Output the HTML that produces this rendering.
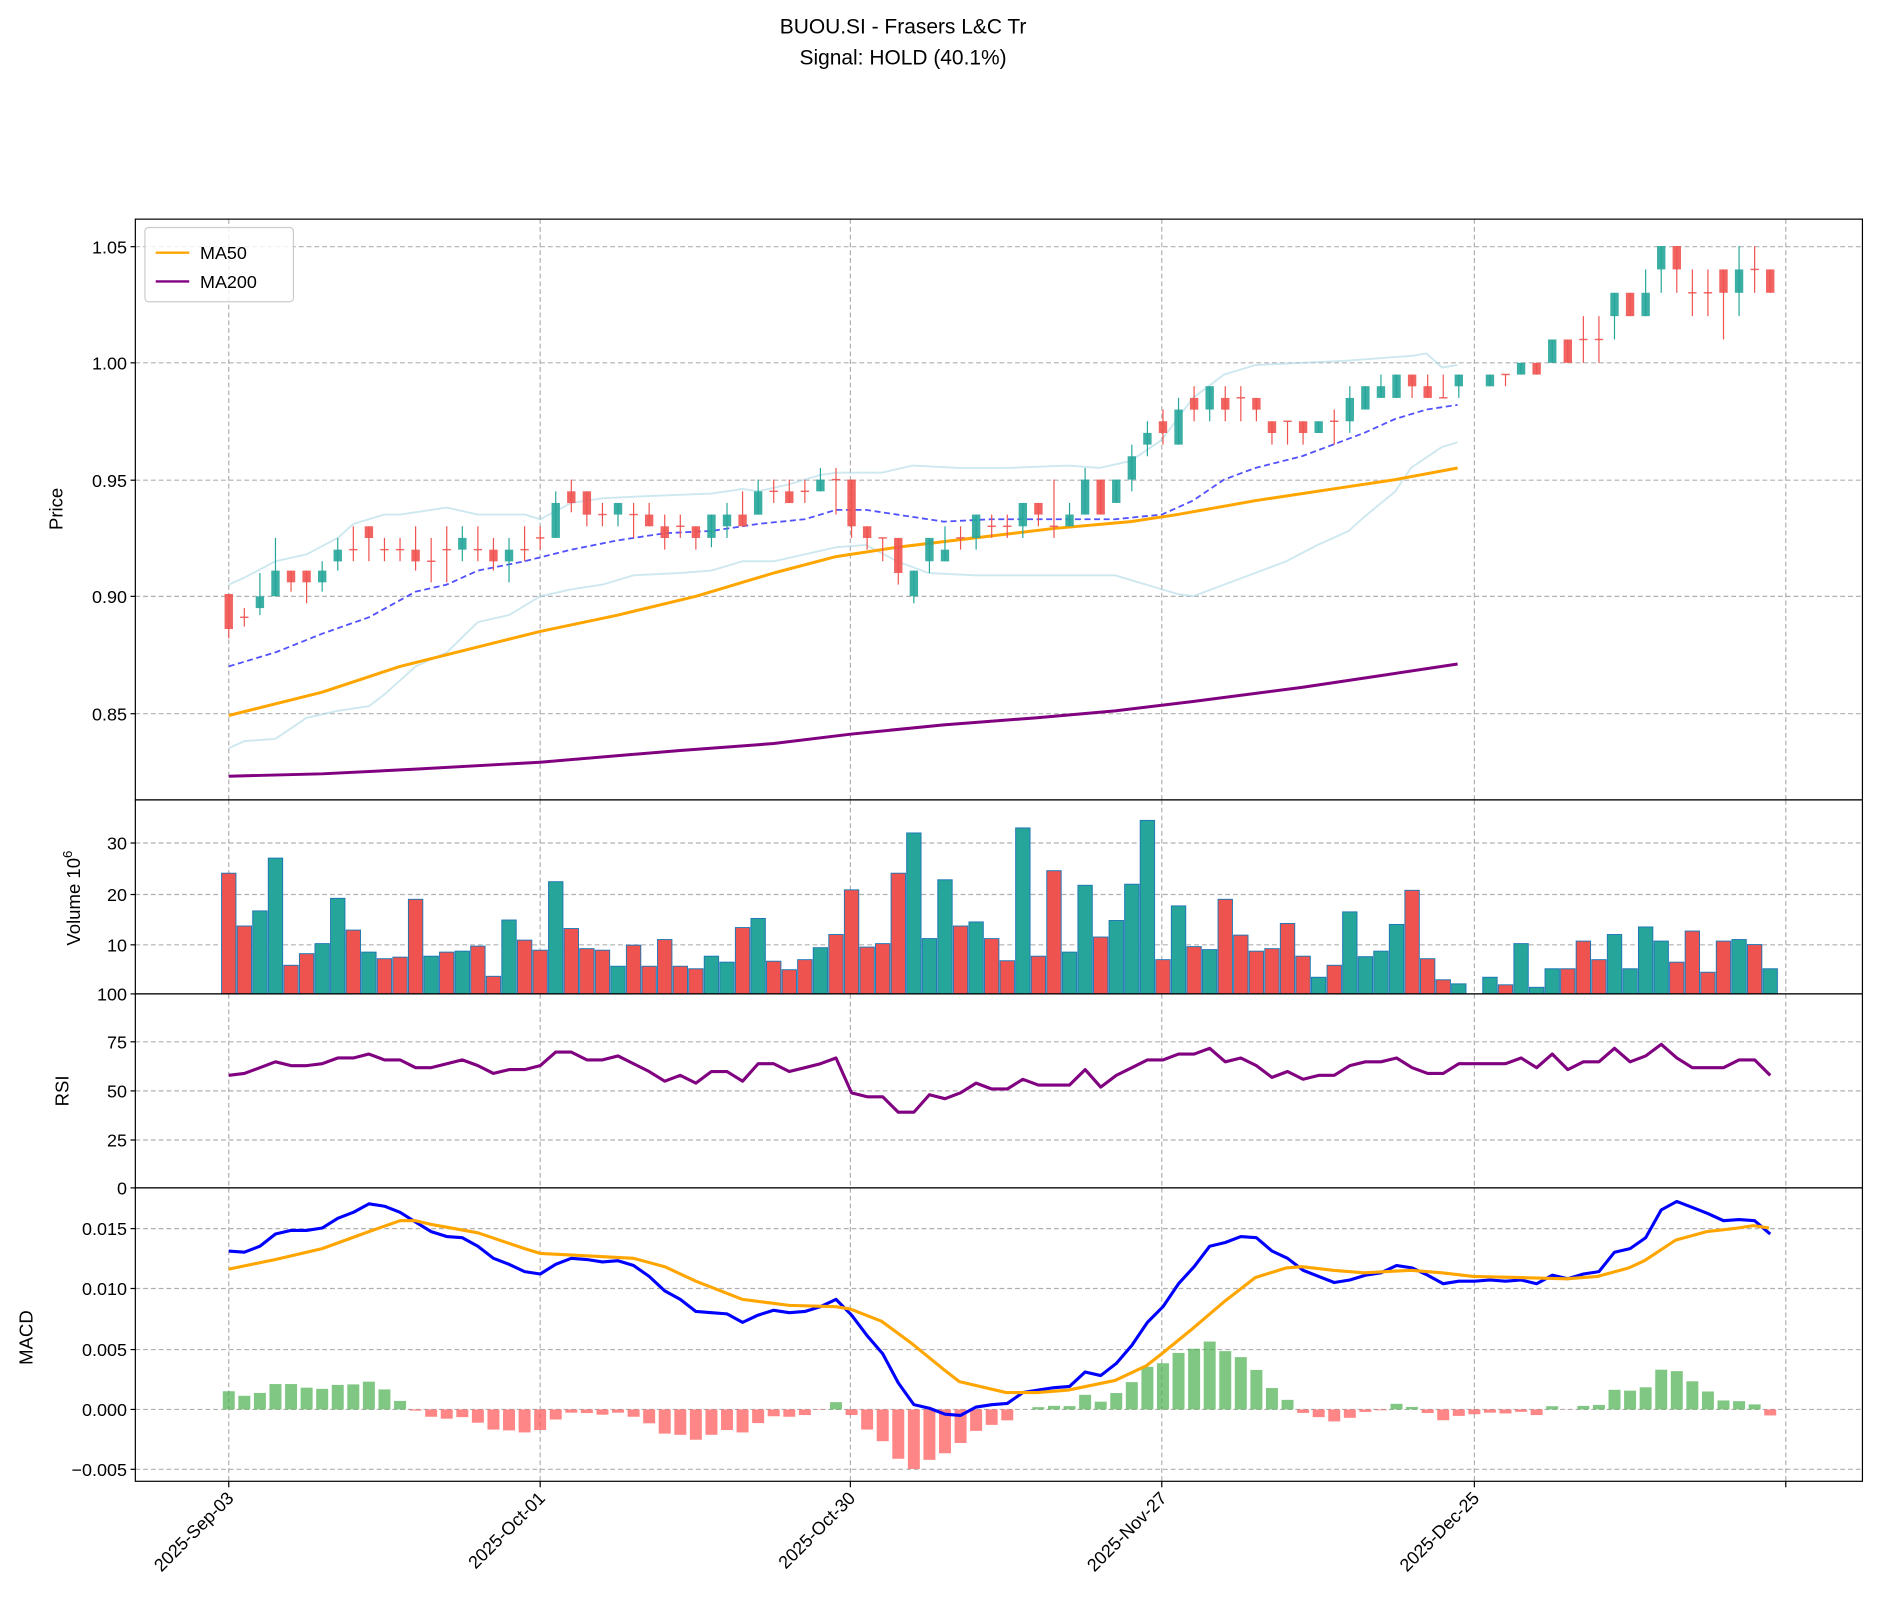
<!DOCTYPE html>
<html><head><meta charset="utf-8"><style>
html,body{margin:0;padding:0;background:#fff;}
svg{display:block;font-family:"Liberation Sans","DejaVu Sans",sans-serif;}
</style></head><body>
<svg id="c" width="1878" height="1619" viewBox="0 0 1568 1352" preserveAspectRatio="none" xmlns="http://www.w3.org/2000/svg"></svg>
<script>
var S=[];function A(s){S.push(s);}
var L=113,R=1555,FS=15;
function X(i){return 191+13*i;}
function PY(p){return 303-(p-1)*1950;}
function VY(v){return 830-v*4.2;}
function RY(r){return 992-r*1.62;}
function MY(m){return 1177-m*10100;}
function interp(pts,x){for(var k=0;k<pts.length-1;k++){if(x>=pts[k][0]&&x<=pts[k+1][0]){var t=(x-pts[k][0])/(pts[k+1][0]-pts[k][0]);return pts[k][1]+t*(pts[k+1][1]-pts[k][1]);}}return x<pts[0][0]?pts[0][1]:pts[pts.length-1][1];}
function poly(pts,fy,col,w,dash,op){var d=pts.map(function(p,k){return (k?'L':'M')+p[0].toFixed(1)+' '+fy(p[1]).toFixed(1);}).join('');A('<path d="'+d+'" fill="none" stroke="'+col+'"'+(op?' stroke-opacity="'+op+'"':'')+' stroke-width="'+w+'"'+(dash?' stroke-dasharray="'+dash+'"':'')+' stroke-linejoin="round"/>');}
var gx=[191,451,710,970,1231,1491];
function grid(top,bot,ys){ys.forEach(function(y){A('<line x1="'+L+'" x2="'+R+'" y1="'+y+'" y2="'+y+'" stroke="#b0b0b0" stroke-dasharray="4,2.5" stroke-width="1"/>');});gx.forEach(function(x){A('<line x1="'+x+'" x2="'+x+'" y1="'+top+'" y2="'+bot+'" stroke="#b0b0b0" stroke-dasharray="4,2.5" stroke-width="1"/>');});}
function ylab(y,t){A('<line x1="'+(L-4)+'" x2="'+L+'" y1="'+y+'" y2="'+y+'" stroke="#000"/>');A('<text x="'+(L-7)+'" y="'+(y+5.5)+'" font-size="'+FS+'" text-anchor="end">'+t+'</text>');}
A('<text x="754" y="28" font-size="17.5" text-anchor="middle">BUOU.SI - Frasers L&amp;C Tr</text>');
A('<text x="754" y="54" font-size="17.5" text-anchor="middle">Signal: HOLD (40.1%)</text>');
grid(183,668,[206,303,401,498,596]);
var up=[[191,.905],[204,.908],[230,.915],[256,.918],[282,.925],[295,.931],[321,.935],[334,.935],[373,.938],[399,.935],[425,.935],[438,.935],[451,.933],[477,.940],[503,.942],[542,.943],[594,.944],[620,.946],[633,.945],[659,.948],[685,.952],[698,.953],[736,.953],[762,.956],[801,.955],[840,.955],[892,.956],[918,.955],[944,.958],[970,.967],[996,.985],[1022,.995],[1048,.999],[1087,1.0],[1126,1.001],[1152,1.002],[1178,1.003],[1191,1.004],[1204,.998],[1217,.999]];
var lo=[[191,.835],[204,.838],[230,.839],[256,.848],[282,.851],[308,.853],[321,.858],[347,.870],[373,.876],[399,.889],[425,.892],[451,.900],[477,.903],[503,.905],[529,.909],[568,.910],[594,.911],[620,.915],[646,.915],[672,.918],[698,.921],[723,.922],[749,.915],[775,.910],[814,.909],[892,.909],[931,.909],[957,.905],[983,.901],[996,.900],[1022,.905],[1048,.910],[1074,.915],[1100,.922],[1126,.928],[1139,.934],[1165,.945],[1178,.955],[1204,.964],[1217,.966]];
var mid=[[191,.870],[230,.876],[269,.884],[308,.891],[347,.902],[373,.905],[399,.911],[438,.915],[477,.920],[516,.924],[555,.927],[594,.928],[633,.931],[672,.933],[698,.937],[723,.937],[749,.935],[788,.932],[827,.933],[866,.933],[931,.933],[970,.935],[996,.941],[1022,.950],[1048,.955],[1087,.960],[1113,.965],[1139,.970],[1165,.976],[1191,.980],[1217,.982]];
poly(up,PY,"#add8e6",1.6,0,0.6);
poly(lo,PY,"#add8e6",1.6,0,0.6);
poly(mid,PY,"#3333ff",1.5,"5,3",0.85);
var ma50=[[191,.849],[269,.859],[334,.870],[412,.880],[451,.885],[516,.892],[581,.900],[646,.910],[698,.917],[749,.921],[814,.925],[879,.929],[944,.932],[983,.935],[1048,.941],[1113,.946],[1165,.950],[1217,.955]];
var ma200=[[191,.823],[269,.824],[347,.826],[451,.829],[568,.834],[646,.837],[710,.841],[788,.845],[866,.848],[931,.851],[996,.855],[1087,.861],[1152,.866],[1217,.871]];
poly(ma50,PY,"#ffa500",2.5);poly(ma200,PY,"#800080",2.5);
var C=[[0,.901,.886,.901,.882],[1,.891,.891,.895,.887],[2,.895,.900,.910,.892],[3,.900,.911,.925,.900],[4,.911,.906,.911,.902],[5,.911,.906,.911,.897],[6,.906,.911,.915,.902],[7,.915,.920,.925,.911],[8,.920,.920,.930,.915],[9,.930,.925,.930,.915],[10,.920,.920,.925,.915],[11,.920,.920,.925,.915],[12,.920,.915,.930,.911],[13,.915,.915,.925,.906],[14,.920,.920,.930,.906],[15,.920,.925,.930,.915],[16,.920,.920,.930,.915],[17,.920,.915,.925,.911],[18,.915,.920,.925,.906],[19,.920,.920,.930,.915],[20,.925,.925,.930,.920],[21,.925,.940,.945,.925],[22,.945,.940,.950,.936],[23,.945,.935,.945,.930],[24,.935,.935,.940,.930],[25,.935,.940,.940,.930],[26,.935,.935,.940,.925],[27,.935,.930,.940,.930],[28,.930,.925,.935,.920],[29,.930,.930,.935,.925],[30,.930,.925,.930,.920],[31,.925,.935,.935,.921],[32,.930,.935,.940,.925],[33,.935,.930,.945,.930],[34,.935,.945,.950,.935],[35,.945,.945,.950,.940],[36,.945,.940,.950,.940],[37,.945,.945,.950,.940],[38,.945,.950,.955,.945],[39,.950,.950,.955,.935],[40,.950,.930,.950,.925],[41,.930,.925,.930,.920],[42,.925,.925,.925,.915],[43,.925,.910,.925,.905],[44,.900,.911,.911,.897],[45,.915,.925,.925,.910],[46,.915,.920,.930,.915],[47,.925,.925,.930,.920],[48,.925,.935,.935,.920],[49,.930,.930,.935,.925],[50,.930,.930,.935,.925],[51,.930,.940,.940,.925],[52,.940,.935,.940,.930],[53,.930,.930,.950,.925],[54,.930,.935,.940,.930],[55,.935,.950,.955,.935],[56,.950,.935,.950,.935],[57,.940,.950,.950,.940],[58,.950,.960,.965,.945],[59,.965,.970,.975,.960],[60,.975,.970,.980,.965],[61,.965,.980,.985,.965],[62,.985,.980,.990,.975],[63,.980,.990,.990,.975],[64,.985,.980,.990,.975],[65,.985,.985,.990,.975],[66,.985,.980,.985,.975],[67,.975,.970,.975,.965],[68,.975,.975,.975,.965],[69,.975,.970,.975,.965],[70,.970,.975,.975,.970],[71,.975,.975,.980,.965],[72,.975,.985,.990,.970],[73,.980,.990,.990,.980],[74,.985,.990,.995,.985],[75,.985,.995,.995,.985],[76,.995,.990,.995,.985],[77,.990,.985,.995,.985],[78,.985,.985,.995,.985],[79,.990,.995,.995,.985],
[81,.990,.995,.995,.990],[82,.995,.995,.995,.990],[83,.995,1.0,1.0,.995],[84,1.0,.995,1.0,.995],[85,1.0,1.01,1.01,1.0],[86,1.01,1.0,1.01,1.0],[87,1.01,1.01,1.02,1.0],[88,1.01,1.01,1.02,1.0],[89,1.02,1.03,1.03,1.01],[90,1.03,1.02,1.03,1.02],[91,1.02,1.03,1.04,1.02],[92,1.04,1.05,1.05,1.03],[93,1.05,1.04,1.05,1.03],[94,1.03,1.03,1.04,1.02],[95,1.03,1.03,1.04,1.02],[96,1.04,1.03,1.04,1.01],[97,1.03,1.04,1.05,1.02],[98,1.04,1.04,1.05,1.03],[99,1.04,1.03,1.04,1.03]];
C.forEach(function(c){var x=X(c[0]),g=c[2]>c[1],col=g?"#26a69a":"#ef5350";
A('<line x1="'+x+'" x2="'+x+'" y1="'+PY(c[3]).toFixed(1)+'" y2="'+PY(c[4]).toFixed(1)+'" stroke="'+col+'" stroke-width="1"/>');
var t=PY(Math.max(c[1],c[2])),b=PY(Math.min(c[1],c[2]));if(b-t<1.2){t-=0.6;b+=0.6;}
A('<rect x="'+(x-3.5)+'" y="'+t.toFixed(1)+'" width="7" height="'+(b-t).toFixed(1)+'" fill="'+col+'" fill-opacity="0.9"/>');});
A('<rect x="'+L+'" y="183" width="'+(R-L)+'" height="485" fill="none" stroke="#000" stroke-width="1"/>');
[[206,"1.05"],[303,"1.00"],[401,"0.95"],[498,"0.90"],[596,"0.85"]].forEach(function(t){ylab(t[0],t[1]);});
A('<text transform="translate(52,425) rotate(-90)" font-size="15.5" text-anchor="middle">Price</text>');
A('<rect x="121" y="190" width="124" height="62" rx="3" fill="#fff" fill-opacity="0.8" stroke="#ccc"/>');
A('<line x1="130" x2="158" y1="211" y2="211" stroke="#ffa500" stroke-width="2"/><text x="167" y="216.5" font-size="15">MA50</text>');
A('<line x1="130" x2="158" y1="235" y2="235" stroke="#800080" stroke-width="2"/><text x="167" y="240.5" font-size="15">MA200</text>');
grid(668,830,[704,747,789]);
var V=[[24,'r'],[13.5,'r'],[16.5,'g'],[27,'g'],[5.7,'r'],[8,'r'],[10,'g'],[19,'g'],[12.7,'r'],[8.3,'g'],[7,'r'],[7.3,'r'],[18.8,'r'],[7.5,'g'],[8.3,'r'],[8.5,'g'],[9.5,'r'],[3.5,'r'],[14.7,'g'],[10.7,'r'],[8.7,'r'],[22.3,'g'],[13,'r'],[9,'r'],[8.7,'r'],[5.5,'g'],[9.7,'r'],[5.5,'r'],[10.8,'r'],[5.5,'r'],[5,'r'],[7.5,'g'],[6.3,'g'],[13.2,'r'],[15,'g'],[6.5,'r'],[4.8,'r'],[6.8,'r'],[9.2,'g'],[11.8,'r'],[20.7,'r'],[9.3,'r'],[10,'r'],[24,'r'],[32,'g'],[11,'g'],[22.7,'g'],[13.5,'r'],[14.3,'g'],[11,'r'],[6.6,'r'],[33,'g'],[7.5,'r'],[24.5,'r'],[8.3,'g'],[21.6,'g'],[11.3,'r'],[14.6,'g'],[21.8,'g'],[34.5,'g'],[6.8,'r'],[17.5,'g'],[9.4,'r'],[8.8,'g'],[18.8,'r'],[11.7,'r'],[8.5,'r'],[9,'r'],[14,'r'],[7.5,'r'],[3.3,'g'],[5.7,'r'],[16.3,'g'],[7.4,'g'],[8.5,'g'],[13.8,'g'],[20.6,'r'],[7,'r'],[2.8,'r'],[2,'g'],null,[3.3,'g'],[1.8,'r'],[10,'g'],[1.3,'g'],[5,'g'],[5,'r'],[10.5,'r'],[6.8,'r'],[11.8,'g'],[5,'g'],[13.3,'g'],[10.5,'g'],[6.3,'r'],[12.5,'r'],[4.3,'r'],[10.5,'r'],[10.8,'g'],[9.8,'r'],[5,'g']];
V.forEach(function(v,i){if(!v)return;var x=X(i)-6,y=VY(v[0]);A('<rect x="'+x+'" y="'+y.toFixed(1)+'" width="12" height="'+(830-y).toFixed(1)+'" fill="'+(v[1]=='g'?'#26a69a':'#ef5350')+'" stroke="#1f77b4" stroke-width="0.8"/>');});
A('<rect x="'+L+'" y="668" width="'+(R-L)+'" height="162" fill="none" stroke="#000"/>');
[[704,"30"],[747,"20"],[789,"10"]].forEach(function(t){ylab(t[0],t[1]);});
A('<text transform="translate(67,750) rotate(-90)" font-size="15.5" text-anchor="middle">Volume  10<tspan font-size="11" dy="-7">6</tspan></text>');
grid(830,992,[870,911,952]);
var RS=[58,59,62,65,63,63,64,67,67,69,66,66,62,62,64,66,63,59,61,61,63,70,70,66,66,68,64,60,55,58,54,60,60,55,64,64,60,62,64,67,49,47,47,39,39,48,46,49,54,51,51,56,53,53,53,61,52,58,62,66,66,69,69,72,65,67,63,57,60,56,58,58,63,65,65,67,62,59,59,64,64,64,64,67,62,69,61,65,65,72,65,68,74,67,62,62,62,66,66,58];
poly(RS.map(function(r,i){return [X(i),r];}),RY,"#800080",2.6);
A('<rect x="'+L+'" y="830" width="'+(R-L)+'" height="162" fill="none" stroke="#000"/>');
[[830,"100"],[870,"75"],[911,"50"],[952,"25"],[992,"0"]].forEach(function(t){ylab(t[0],t[1]);});
A('<text transform="translate(57,911) rotate(-90)" font-size="15.5" text-anchor="middle">RSI</text>');
grid(992,1237,[1026,1076,1127,1177,1227]);
var MB=[.0131,.0130,.0135,.0145,.0148,.0148,.0150,.0158,.0163,.0170,.0168,.0163,.0155,.0147,.0143,.0142,.0135,.0125,.0120,.0114,.0112,.0120,.0125,.0124,.0122,.0123,.0119,.0110,.0098,.0091,.0081,.0080,.0079,.0072,.0078,.0082,.0080,.0081,.0085,.0091,.0078,.0061,.0046,.0022,.0004,.0001,-.0004,-.0005,.0002,.0004,.0005,.0014,.0016,.0018,.0019,.0031,.0028,.0038,.0053,.0072,.0085,.0104,.0118,.0135,.0138,.0143,.0142,.0131,.0125,.0115,.0110,.0105,.0107,.0111,.0113,.0119,.0117,.0111,.0104,.0106,.0106,.0107,.0106,.0107,.0104,.0111,.0108,.0112,.0114,.0130,.0133,.0142,.0165,.0172,.0167,.0162,.0156,.0157,.0156,.0145];
var MO=[[191,.0116],[230,.0124],[269,.0133],[308,.0147],[334,.0156],[347,.0156],[360,.0153],[399,.0146],[438,.0133],[451,.0129],[490,.0127],[529,.0125],[555,.0118],[581,.0106],[620,.0091],[659,.0086],[698,.0085],[710,.0083],[736,.0073],[762,.0054],[788,.0033],[801,.0023],[840,.0014],[866,.0014],[892,.0016],[931,.0024],[957,.0036],[970,.0046],[996,.0067],[1022,.0089],[1048,.0109],[1074,.0117],[1087,.0118],[1113,.0115],[1139,.0113],[1178,.0115],[1204,.0113],[1230,.0110],[1269,.0109],[1308,.0108],[1334,.0110],[1360,.0117],[1373,.0123],[1399,.0140],[1425,.0147],[1451,.0150],[1464,.0152],[1477,.0150]];
MB.forEach(function(m,i){var x=X(i),h=m-interp(MO,x);var y0=MY(0),y1=MY(h);A('<rect x="'+(x-5)+'" y="'+Math.min(y0,y1).toFixed(1)+'" width="10" height="'+Math.abs(y1-y0).toFixed(1)+'" fill="'+(h>=0?'#4caf50':'#ff5252')+'" fill-opacity="0.7"/>');});
poly(MB.map(function(m,i){return [X(i),m];}),MY,"#0000ff",2.6);
poly(MO,MY,"#ffa500",2.6);
A('<rect x="'+L+'" y="992" width="'+(R-L)+'" height="245" fill="none" stroke="#000"/>');
[[1026,"0.015"],[1076,"0.010"],[1127,"0.005"],[1177,"0.000"],[1227,"\u22120.005"]].forEach(function(t){ylab(t[0],t[1]);});
A('<text transform="translate(27,1117) rotate(-90)" font-size="15.5" text-anchor="middle">MACD</text>');
var xl=["2025-Sep-03","2025-Oct-01","2025-Oct-30","2025-Nov-27","2025-Dec-25"];
gx.forEach(function(x,k){A('<line x1="'+x+'" x2="'+x+'" y1="1237" y2="1242" stroke="#000"/>');if(k<5)A('<text transform="translate('+(x+5)+',1252) rotate(-45)" font-size="15" text-anchor="end">'+xl[k]+'</text>');});
document.getElementById('c').innerHTML=S.join('');
</script>
</body></html>
